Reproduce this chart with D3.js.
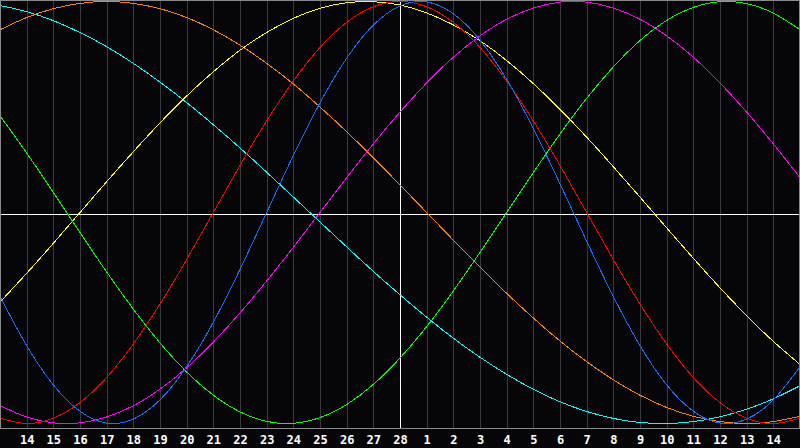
<!DOCTYPE html>
<html>
<head>
<meta charset="utf-8">
<script src="https://cdn.jsdelivr.net/npm/d3@7"></script>
<style>
  html, body { margin: 0; padding: 0; background: #060608; }
  svg { display: block; }
</style>
</head>
<body>
<svg id="chart" width="800" height="448"></svg>
<script>
// Day labels along the x axis (index 0 .. 30)
const days = [13,14,15,16,17,18,19,20,21,22,23,24,25,26,27,28,1,2,3,4,5,6,7,8,9,10,11,12,13,14,15];
const todayIndex = 15;

// Cycle values in percent (-100 .. 100), one per day
const physical23     = [-39.8,-63.1,-81.7,-94.2,-99.8,-97.9,-88.8,-73.1,-52.0,-27.0,0,27.0,52.0,73.1,88.8,97.9,99.8,94.2,81.7,63.1,39.8,13.6,-13.6,-39.8,-63.1,-81.7,-94.2,-99.8,-97.9,-88.8,-73.1];
const emotional28    = [-97.5,-100,-97.5,-90.1,-78.2,-62.3,-43.4,-22.3,0,22.3,43.4,62.3,78.2,90.1,97.5,100,97.5,90.1,78.2,62.3,43.4,22.3,0,-22.3,-43.4,-62.3,-78.2,-90.1,-97.5,-100,-97.5];
const intellectual33 = [45.8,28.2,9.5,-9.5,-28.2,-45.8,-61.8,-75.6,-86.6,-94.5,-99.0,-99.9,-97.2,-91.0,-81.5,-69.0,-54.1,-37.2,-18.9,0,18.9,37.2,54.1,69.0,81.5,91.0,97.2,99.9,99.0,94.5,86.6];
const intuitive38    = [-91.6,-96.9,-99.7,-99.7,-96.9,-91.6,-83.7,-73.6,-61.4,-47.6,-32.5,-16.5,0,16.5,32.5,47.6,61.4,73.6,83.7,91.6,96.9,99.7,99.7,96.9,91.6,83.7,73.6,61.4,47.6,32.5,16.5];
const aesthetic43    = [-42.5,-28.8,-14.6,0,14.6,28.8,42.5,55.2,66.7,76.9,85.3,92.0,96.8,99.4,99.9,98.3,94.6,88.9,81.4,72.0,61.1,48.9,35.7,21.7,7.3,-7.3,-21.7,-35.7,-48.9,-61.1,-72.0];
const awareness48    = [86.6,92.4,96.6,99.1,100,99.1,96.6,92.4,86.6,79.3,70.7,60.9,50.0,38.3,25.9,13.1,0,-13.1,-25.9,-38.3,-50.0,-60.9,-70.7,-79.3,-86.6,-92.4,-96.6,-99.1,-100,-99.1,-96.6];
const spiritual53    = [98.1,95.2,90.9,85.3,78.6,70.7,61.8,52.1,41.6,30.6,19.1,7.3,-4.5,-16.3,-27.9,-39.0,-49.6,-59.6,-68.6,-76.7,-83.8,-89.7,-94.3,-97.6,-99.5,-100.0,-99.1,-96.8,-93.2,-88.3,-82.1];

const seriesNames  = ["spiritual53","awareness48","aesthetic43","intuitive38","intellectual33","emotional28","physical23"];
const seriesValues = [spiritual53, awareness48, aesthetic43, intuitive38, intellectual33, emotional28, physical23];
const seriesColors = ["#00ffff","#ff8000","#ffff00","#ff00ff","#00ff00","#ff0000","#1a6cff"];

const W = 800, H = 448, plotH = 428;
const svg = d3.select("#chart");

svg.append("rect").attr("x",0).attr("y",0).attr("width",W).attr("height",H).attr("fill","#060608");

const x = d3.scaleLinear().domain([0, days.length - 1]).range([0, W]);
const y = d3.scaleLinear().domain([-100, 100]).range([423.5, 1.5]);

// vertical grid lines
const gridIdx = d3.range(1, days.length - 1);
svg.append("g").selectAll("line").data(gridIdx).join("line")
  .attr("x1", d => Math.round(x(d)) + 0.5).attr("x2", d => Math.round(x(d)) + 0.5)
  .attr("y1", 1).attr("y2", plotH)
  .attr("stroke", d => d === todayIndex ? "#ffffff" : "#3a3a3e")
  .attr("stroke-width", 1)
  .attr("shape-rendering", "crispEdges");

// midline
svg.append("line")
  .attr("x1", 0).attr("x2", W).attr("y1", plotH/2 + 0.5).attr("y2", plotH/2 + 0.5)
  .attr("stroke", "#ffffff").attr("stroke-width", 1).attr("shape-rendering", "crispEdges");

// frame
svg.append("rect").attr("x",0.5).attr("y",0.5).attr("width",W-1).attr("height",plotH)
  .attr("fill","none").attr("stroke","#8a8a8a").attr("stroke-width",1).attr("shape-rendering","crispEdges");

// curves
const line = d3.line().x((d,i) => x(i)).y(d => y(d)).curve(d3.curveNatural);
svg.append("clipPath").attr("id","plotclip").append("rect")
  .attr("x",1).attr("y",1).attr("width",W-2).attr("height",plotH-1);
svg.append("g").attr("clip-path","url(#plotclip)")
  .selectAll("path").data(seriesValues).join("path")
  .attr("d", d => line(d))
  .attr("fill","none")
  .attr("stroke", (d,i) => seriesColors[i])
  .attr("stroke-width", 1)
  .attr("shape-rendering", "crispEdges");

// axis labels
const xAxis = d3.axisBottom(x).tickValues(gridIdx).tickFormat(i => days[i]).tickSize(0).tickPadding(0);
const ax = svg.append("g").attr("transform", `translate(0,${plotH})`).call(xAxis);
ax.select(".domain").remove();
ax.selectAll("text")
  .attr("y", 15.5)
  .attr("dy", 0)
  .attr("fill", "#ffffff")
  .attr("font-family", "'DejaVu Sans Mono', monospace")
  .attr("font-weight", "bold")
  .attr("font-size", "12px");
</script>
</body>
</html>
